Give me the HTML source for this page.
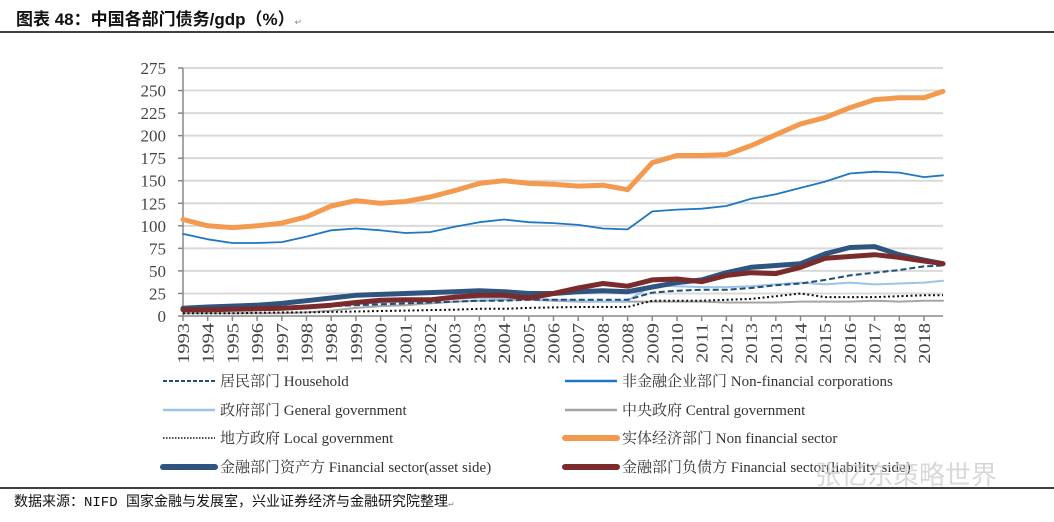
<!DOCTYPE html>
<html><head><meta charset="utf-8">
<style>
html,body{margin:0;padding:0;background:#fff;width:1054px;height:522px;overflow:hidden}
svg{display:block}
</style></head>
<body>
<svg id="chart" width="1054" height="522" xmlns="http://www.w3.org/2000/svg">
  <text x="16" y="25" font-family="'Liberation Sans','Noto Sans CJK SC',sans-serif" font-size="17" font-weight="bold" fill="#111">图表 48：中国各部门债务/gdp（%）<tspan font-size="9" fill="#888" font-weight="normal">↵</tspan></text>
  <line x1="0" y1="32" x2="1054" y2="32" stroke="#000" stroke-width="1.5"/>
  <g id="grid"></g>
  <g id="axes"></g>
  <g id="series"></g>
  <g id="legend"></g>
  <line x1="0" y1="488" x2="1054" y2="488" stroke="#000" stroke-width="1.5"/>
  <text x="14" y="506" font-family="'Liberation Mono','Noto Sans CJK SC',monospace" font-size="14" fill="#111">数据来源：NIFD 国家金融与发展室，兴业证券经济与金融研究院整理<tspan font-size="9" fill="#888">↵</tspan></text>
  <text x="815" y="484" font-family="'Noto Sans CJK SC',sans-serif" font-size="26" fill="#cfcfcf" opacity="0.8">张忆东策略世界</text>
</svg>
<script>
const tickLabels = ["1993","1994","1995","1996","1997","1998","1998","1999","2000","2001","2002","2003","2003","2004","2005","2006","2007","2008","2008","2009","2010","2011","2012","2013","2013","2014","2015","2016","2017","2018","2018"];
const times = [0,1,2,3,4,5,6,7,8,9,10,11,12,13,14,15,16,17,18,19,20,21,22,23,24,25,26,27,28,29,30,30.77];
const yTicks = [0,25,50,75,100,125,150,175,200,225,250,275];
const household = [6,7,7,8,9,10,11,12,13,14,15,16,17,17,18,18,18,18,18,26,28,29,29,31,34,36,40,45,48,51,55,56];
const nonFinCorp = [91,85,81,81,82,88,95,97,95,92,93,99,104,107,104,103,101,97,96,116,118,119,122,130,135,142,149,158,160,159,154,156];
const generalGov = [8,8,8,8,8,9,12,14,15,16,17,19,20,20,19,18,17,16,17,34,33,32,32,33,35,37,35,37,35,36,37,39];
const centralGov = [3,3,3,3,3,4,6,9,11,12,14,16,17,18,18,17,16,16,16,16,16,16,15,15,15,16,16,16,17,16,17,17];
const localGov = [3,3,3,3.5,4,4,4.5,5,5.5,6,6.5,7,8,8,9,9.5,10,10,10,17,17,17,18,19,22,25,21,21,21,22,23,23];
const nonFinSector = [107,100,98,100,103,110,122,128,125,127,132,139,147,150,147,146,144,145,140,170,178,178,179,189,201,213,220,231,240,242,242,249];
const finAsset = [8.5,10,11,12,14,17,20,23,24,25,26,27,28,27,25,25,27,28,27,32,37,40,48,54,56,58,69,76,77,68,62,58];
const finLiab = [7,7,7.5,8,8.5,10,12,15,17.5,18,18,21,23,23,20,25,31,36,33,40,41,38,45,48,47,54,64,66,68,65,61,58];

const NS="http://www.w3.org/2000/svg";
const X0=183, DX=24.7, Y0=316, YSCALE=248/275;
function xs(t){return X0+t*DX;}
function ys(v){return Y0-v*YSCALE;}
function mk(tag,attrs,parent){const e=document.createElementNS(NS,tag);for(const k in attrs)e.setAttribute(k,attrs[k]);parent.appendChild(e);return e;}
const grid=document.getElementById('grid'),axes=document.getElementById('axes'),series=document.getElementById('series'),legend=document.getElementById('legend');
const serif="'Liberation Serif','Noto Serif CJK SC',serif";
yTicks.forEach(v=>{
  if(v>0){const g=mk('line',{x1:X0,x2:943,y1:ys(v),y2:ys(v),stroke:'#d9d9d9','stroke-width':2},grid);
  
  }
  const t=mk('text',{x:166,y:ys(v)+6,'text-anchor':'end','font-family':serif,'font-size':17,fill:'#444'},axes);
  t.textContent=v;
  
  
  const tk=mk('line',{x1:X0-5,x2:X0,y1:ys(v),y2:ys(v),stroke:'#888','stroke-width':1.5},axes);
  
  
});
const ya=mk('line',{x1:X0,x2:X0,y1:ys(275),y2:Y0,stroke:'#888','stroke-width':1.5},axes);


const xa=mk('line',{x1:X0,x2:943,y1:Y0,y2:Y0,stroke:'#888','stroke-width':1.5},axes);


tickLabels.forEach((lab,i)=>{
  const x=xs(i);
  const tk=mk('line',{x1:x,x2:x,y1:Y0,y2:Y0+5,stroke:'#888','stroke-width':1.5},axes);
  
  
  const t=mk('text',{x:0,y:0,'text-anchor':'end','font-family':serif,'font-size':17,fill:'#444',transform:`translate(${x+6},${Y0+7}) rotate(-90) scale(1.2,1)`},axes);
  t.textContent=lab;
  
  
});
const defs=[
  {d:centralGov,c:'#a5a5a5',w:2,dash:null,name:'central-government-line'},
  {d:localGov,c:'#111',w:2,dash:'2,2.5',name:'local-government-line'},
  {d:generalGov,c:'#9dc3e6',w:2,dash:null,name:'general-government-line'},
  {d:household,c:'#1f4e79',w:2,dash:'6,3',name:'household-line'},
  {d:nonFinCorp,c:'#1f77c4',w:1.8,dash:null,name:'non-financial-corporations-line'},
  {d:nonFinSector,c:'#f39a4f',w:5,dash:null,name:'non-financial-sector-line'},
  {d:finAsset,c:'#2f5480',w:5,dash:null,name:'financial-asset-side-line'},
  {d:finLiab,c:'#7b2b2b',w:5,dash:null,name:'financial-liability-side-line'}
];
defs.forEach(s=>{
  const pts=s.d.map((v,i)=>xs(times[i]).toFixed(1)+','+ys(v).toFixed(1)).join(' ');
  const a={points:pts,fill:'none',stroke:s.c,'stroke-width':s.w,'stroke-linejoin':'round','stroke-linecap':'round'};
  if(s.dash){a['stroke-dasharray']=s.dash;a['stroke-linecap']='butt';}
  const p=mk('polyline',a,series);
  
  
});
const leg=[
  [163,381,'#1f4e79',2,'4,2','居民部门 Household'],
  [565,381,'#1f77c4',2.5,null,'非金融企业部门 Non-financial corporations'],
  [163,410,'#9dc3e6',2.5,null,'政府部门 General government'],
  [565,410,'#a5a5a5',2.5,null,'中央政府 Central government'],
  [163,438,'#111',1.5,'1.5,1.5','地方政府 Local government'],
  [565,438,'#f39a4f',6,null,'实体经济部门 Non financial sector'],
  [163,467,'#2f5480',6,null,'金融部门资产方 Financial sector(asset side)'],
  [565,467,'#7b2b2b',6,null,'金融部门负债方 Financial sector(liability side)']
];
leg.forEach(l=>{
  const g=mk('g',{},legend);
  
  
  const a={x1:l[0],x2:l[0]+52,y1:l[1],y2:l[1],stroke:l[2],'stroke-width':l[3],'stroke-linecap':l[3]>4?'round':'butt'};
  if(l[4])a['stroke-dasharray']=l[4];
  mk('line',a,g);
  const t=mk('text',{x:l[0]+57,y:l[1]+5,'font-family':serif,'font-size':15,fill:'#333'},g);
  t.textContent=l[5];
});
</script>
</body></html>
